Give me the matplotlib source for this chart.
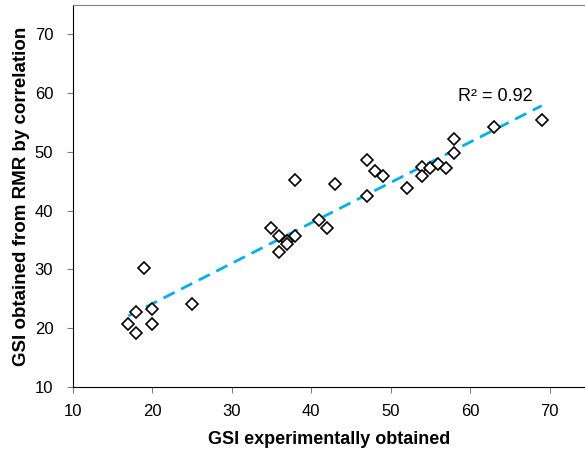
import numpy as np
import matplotlib
matplotlib.use("Agg")
import matplotlib.pyplot as plt

plt.rcParams['font.family'] = ['Liberation Sans', 'DejaVu Sans']

# GSI measured vs GSI from RMR correlation
gsi_exp = [19, 18, 20, 17, 18, 20, 25,
           38, 43, 35, 36, 38, 37, 37, 36, 41, 42,
           47, 48, 49, 47, 52, 54, 54, 55, 56, 57, 58, 58,
           63, 69]
gsi_rmr = [30.2, 22.7, 23.3, 20.7, 19.2, 20.7, 24.1,
           45.3, 44.5, 37.0, 35.7, 35.7, 34.8, 34.3, 33.0, 38.4, 37.0,
           48.6, 46.7, 45.9, 42.5, 43.9, 47.5, 45.9, 47.3, 48.0, 47.3, 52.2, 49.9,
           54.2, 55.5]
# linear trend line as drawn in the picture
trend_slope = 0.688
trend_intercept = 10.4
r2_text = "R² = 0.92"

x = np.array(gsi_exp, dtype=float)
y = np.array(gsi_rmr, dtype=float)
xl = np.array([x.min(), x.max()])

fig = plt.figure(figsize=(5.85, 4.59), dpi=100)
ax = fig.add_axes([0.1243, 0.1569, 0.8757, 0.832])

ax.plot(x, y, 'D', ms=6.3, mfc='white', mec='black', mew=1.2, zorder=3)
ax.plot(xl, trend_slope * xl + trend_intercept, color='#00B0F0', lw=2.0,
        dashes=(4.5, 2.6), zorder=2)
ax.text(58.5, 59.4, r2_text, fontsize=13, ha='left', va='center')

ax.set_xlim(10, 74.45)
ax.set_ylim(10, 75)
ax.set_xticks(range(10, 71, 10))
ax.set_yticks(range(10, 71, 10))
ax.tick_params(labelsize=12, length=4, color='#808080', direction='out')
ax.tick_params(axis='x', pad=8)
ax.tick_params(axis='y', pad=10)

ax.spines['right'].set_visible(False)
ax.spines['top'].set_color('#808080')
ax.spines['left'].set_color('black')
ax.spines['bottom'].set_color('black')

ax.set_xlabel('GSI experimentally obtained', fontsize=13, fontweight='bold', labelpad=9)
ax.set_ylabel('GSI obtained from RMR by correlation', fontsize=13.5, fontweight='bold', labelpad=3)

fig.savefig('out.png', dpi=100)
